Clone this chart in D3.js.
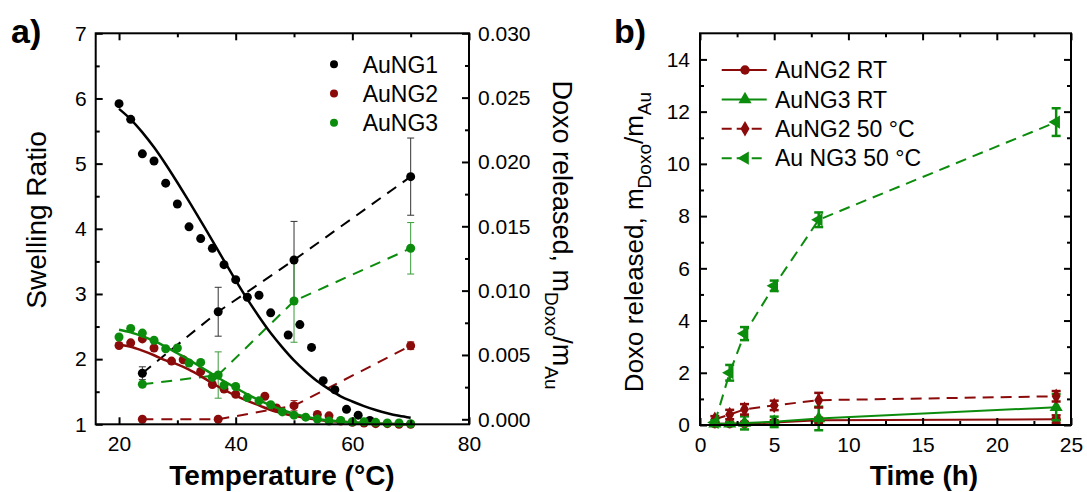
<!DOCTYPE html>
<html><head><meta charset="utf-8">
<script src="https://cdn.jsdelivr.net/npm/d3@7"></script>
<style>body{margin:0;background:#fff} svg{display:block} text{font-family:"Liberation Sans",Arial,sans-serif;fill:#000}</style>
</head><body><svg id="c" width="1087" height="492"></svg>
<script>
// ---------- Panel a data ----------
const swellT1 = [20,22,24,26,28,30,32,34,36,38,40,42,44,46,49,51,53,55,57,59,61,63];
const swell1  = [5.92,5.68,5.15,5.04,4.70,4.38,4.03,3.85,3.70,3.45,3.22,2.95,2.98,2.71,2.37,2.53,2.18,1.67,1.53,1.23,1.14,1.06];
const swellT2 = [20,22,24,26,29,31,34,36,38,40,45,47,54,56,58,60,62,64,66,68,70];
const swell2  = [2.21,2.25,2.31,2.17,1.97,1.99,1.81,1.61,1.54,1.46,1.43,1.25,1.15,1.13,1.05,1.03,1.02,1.01,1.01,1.00,1.00];
const swellT3 = [20,22,24,26,28,30,32,34,36,38,40,42,44,46,48,50,52,54,56,58,60,62,64,66,68,70];
const swell3  = [2.34,2.47,2.40,2.29,2.16,2.17,1.94,1.95,1.72,1.60,1.58,1.41,1.36,1.30,1.19,1.14,1.11,1.08,1.05,1.06,1.04,1.04,1.03,1.02,1.02,1.01];

const fitT = [20,22,24,26,28,30,32,34,36,38,40,42,44,46,48,50,52,54,56,58,60,62,64,66,68,70];
const fit1 = [5.84,5.68,5.48,5.25,4.99,4.71,4.42,4.12,3.82,3.51,3.21,2.92,2.65,2.40,2.18,1.98,1.81,1.66,1.54,1.43,1.35,1.28,1.22,1.17,1.13,1.10];
const fit2 = [2.22,2.19,2.13,2.06,1.98,1.92,1.84,1.74,1.63,1.53,1.44,1.36,1.29,1.22,1.17,1.13,1.10,1.07,1.05,1.04,1.03,1.02,1.01,1.01,1.00,1.00];
const fit3 = [2.45,2.41,2.35,2.28,2.19,2.09,1.99,1.88,1.77,1.66,1.56,1.46,1.37,1.29,1.22,1.16,1.12,1.08,1.06,1.04,1.03,1.02,1.01,1.01,1.00,1.00];

const doxoT   = [24,37,50,70];
const doxo1   = [0.00358,0.00836,0.01238,0.01886];
const doxo1E  = [0.0005,0.0019,0.0030,0.0030];
const doxo2   = [0.0000,0.0000,0.00106,0.00572];
const doxo2E  = [0.0000,0.0000,0.0004,0.0003];
const doxo3   = [0.00272,0.00344,0.00919,0.01329];
const doxo3E  = [0.0000,0.0018,0.0032,0.0020];

const xTicksA = [20,40,60,80], xMinorA = [30,50,70];
const yTicksA = [1,2,3,4,5,6,7], yMinorA = [1.5,2.5,3.5,4.5,5.5,6.5];
const y2TicksA = [0,0.005,0.010,0.015,0.020,0.025,0.030], y2MinorA = [0.0025,0.0075,0.0125,0.0175,0.0225,0.0275];
const legendA = ["AuNG1","AuNG2","AuNG3"];

// ---------- Panel b data ----------
const timeB = [1,2,3,5,8,24];
const ng2RT  = [0.05,0.05,0.05,0.10,0.18,0.22];
const ng2RTE = [0.05,0.05,0.05,0.08,0.10,0.15];
const ng3RT  = [0.05,0.05,0.08,0.12,0.25,0.68];
const ng3RTE = [0.05,0.05,0.25,0.20,0.45,0.50];
const ng250  = [0.22,0.40,0.60,0.75,0.95,1.10];
const ng250E = [0.12,0.18,0.20,0.18,0.28,0.20];
const ng350  = [0.10,2.00,3.50,5.33,7.86,11.60];
const ng350E = [0.08,0.30,0.25,0.20,0.28,0.53];
const xTicksB = [0,5,10,15,20,25], xMinorB = [2.5,7.5,12.5,17.5,22.5];
const yTicksB = [0,2,4,6,8,10,12,14], yMinorB = [1,3,5,7,9,11,13];
const legendB = ["AuNG2 RT","AuNG3 RT","AuNG2 50 °C","Au NG3 50 °C"];

const RED = "#8b0a0a", GREEN = "#0c8c0c", BLACK = "#000";
const svg = d3.select("#c");

function styleAxis(g, fs){
  g.select(".domain").remove();
  g.selectAll(".tick line").attr("stroke","#000").attr("stroke-width",2);
  g.attr("font-family",'"Liberation Sans",Arial,sans-serif').attr("font-size",fs);
  g.selectAll("text").attr("fill","#000");
}
function axes(x, y, opt){
  const [x0,x1] = x.range(), [yb,yt] = y.range();
  svg.append("g").attr("transform",`translate(0,${yb})`)
    .call(d3.axisBottom(x).tickValues(opt.xt).tickSizeInner(-7).tickSizeOuter(0).tickPadding(12).tickFormat(d3.format("d")))
    .call(g=>styleAxis(g,21));
  svg.append("g").attr("transform",`translate(0,${yb})`)
    .call(d3.axisBottom(x).tickValues(opt.xm).tickSizeInner(-4).tickSizeOuter(0).tickFormat(""))
    .call(g=>styleAxis(g,21));
  svg.append("g").attr("transform",`translate(0,${yt})`)
    .call(d3.axisTop(x).tickValues(opt.xt).tickSizeInner(-7).tickSizeOuter(0).tickFormat(""))
    .call(g=>styleAxis(g,21));
  svg.append("g").attr("transform",`translate(0,${yt})`)
    .call(d3.axisTop(x).tickValues(opt.xm).tickSizeInner(-4).tickSizeOuter(0).tickFormat(""))
    .call(g=>styleAxis(g,21));
  svg.append("g").attr("transform",`translate(${x0},0)`)
    .call(d3.axisLeft(y).tickValues(opt.yt).tickSizeInner(-7).tickSizeOuter(0).tickPadding(opt.lpad).tickFormat(d3.format("d")))
    .call(g=>styleAxis(g,21));
  svg.append("g").attr("transform",`translate(${x0},0)`)
    .call(d3.axisLeft(y).tickValues(opt.ym).tickSizeInner(-4).tickSizeOuter(0).tickFormat(""))
    .call(g=>styleAxis(g,21));
  const yr = opt.y2 || y;
  svg.append("g").attr("transform",`translate(${x1},0)`)
    .call(d3.axisRight(yr).tickValues(opt.y2t || opt.yt).tickSizeInner(-7).tickSizeOuter(0).tickPadding(9)
      .tickFormat(opt.y2 ? d3.format(".3f") : ""))
    .call(g=>styleAxis(g,21));
  svg.append("g").attr("transform",`translate(${x1},0)`)
    .call(d3.axisRight(yr).tickValues(opt.y2m || opt.ym).tickSizeInner(-4).tickSizeOuter(0).tickFormat(""))
    .call(g=>styleAxis(g,21));
  svg.append("rect").attr("x",x0).attr("y",yt).attr("width",x1-x0).attr("height",yb-yt)
    .attr("fill","none").attr("stroke","#000").attr("stroke-width",2);
}

// ================= Panel a =================
const xA = d3.scaleLinear([16,80],[95.7,469]);
const yA = d3.scaleLinear([1,7],[424.3,33.3]);
const yA2 = d3.scaleLinear([-0.000389,0.030],[424.3,33.3]);

const gA = svg.append("g");
function dots(g, xs, ys, xsc, ysc, col, r){
  g.selectAll(null).data(xs).join("circle")
    .attr("cx",(d)=>xsc(d)).attr("cy",(d,i)=>ysc(ys[i])).attr("r",r).attr("fill",col);
}
function line(g, xs, ys, xsc, ysc, col, w, dash, curve){
  const l = d3.line().x(d=>xsc(d[0])).y(d=>ysc(d[1])).curve(curve||d3.curveLinear);
  g.append("path").attr("d",l(xs.map((d,i)=>[d,ys[i]]))).attr("fill","none")
    .attr("stroke",col).attr("stroke-width",w).attr("stroke-dasharray",dash||null);
}
function errbars(g, xs, ys, es, xsc, ysc, col, w, cap){
  xs.forEach((d,i)=>{
    if(!es[i]) return;
    const x = xsc(d), y1 = ysc(ys[i]-es[i]), y2 = ysc(ys[i]+es[i]);
    g.append("line").attr("x1",x).attr("x2",x).attr("y1",y1).attr("y2",y2).attr("stroke",col).attr("stroke-width",w);
    [y1,y2].forEach(yy=>g.append("line").attr("x1",x-cap).attr("x2",x+cap).attr("y1",yy).attr("y2",yy).attr("stroke",col).attr("stroke-width",w));
  });
}

line(gA, doxoT, doxo1, xA, yA2, BLACK, 2, "11,8");
line(gA, doxoT, doxo3, xA, yA2, GREEN, 2, "11,8");
line(gA, doxoT, doxo2, xA, yA2, RED, 2, "11,8");
errbars(gA, doxoT, doxo1, doxo1E, xA, yA2, "#333", 1, 3.5);
errbars(gA, doxoT, doxo3, doxo3E, xA, yA2, "#3a9a3a", 1, 3.5);
errbars(gA, doxoT, doxo2, doxo2E, xA, yA2, "#a03030", 1, 3.5);
dots(gA, doxoT, doxo1, xA, yA2, BLACK, 4.5);
dots(gA, doxoT, doxo2, xA, yA2, RED, 4.5);
dots(gA, doxoT, doxo3, xA, yA2, GREEN, 4.5);

dots(gA, swellT1, swell1, xA, yA, BLACK, 4.5);
line(gA, fitT, fit1, xA, yA, BLACK, 2.5, null, d3.curveMonotoneX);
dots(gA, swellT2, swell2, xA, yA, RED, 4.5);
line(gA, fitT, fit2, xA, yA, RED, 2.5, null, d3.curveMonotoneX);
dots(gA, swellT3, swell3, xA, yA, GREEN, 4.5);
line(gA, fitT, fit3, xA, yA, GREEN, 2.5, null, d3.curveMonotoneX);

axes(xA, yA, {xt:xTicksA, xm:xMinorA, yt:yTicksA, ym:yMinorA, lpad:9, y2:yA2, y2t:y2TicksA, y2m:y2MinorA});

const legColA = [BLACK, RED, GREEN];
legendA.forEach((s,i)=>{
  const yy = 64.3 + i*29.2;
  svg.append("circle").attr("cx",334).attr("cy",yy).attr("r",4).attr("fill",legColA[i]);
  svg.append("text").attr("x",362.7).attr("y",yy).attr("dy","0.36em").attr("font-size",23).text(s);
});

svg.append("text").attr("x",11).attr("y",43).attr("font-size",34).attr("font-weight","bold").text("a)");
svg.append("text").attr("text-anchor","middle").attr("transform","translate(46,220) rotate(-90)")
  .attr("font-size",28).text("Swelling Ratio");
svg.append("text").attr("text-anchor","middle").attr("x",282).attr("y",485)
  .attr("font-size",28).attr("font-weight","bold").text("Temperature (°C)");
function doxoTitle(tr, fs){
  const t = svg.append("text").attr("text-anchor","middle").attr("transform",tr).attr("font-size",fs);
  t.append("tspan").text("Doxo released, m");
  t.append("tspan").attr("font-size",19).attr("dy",8).text("Doxo");
  t.append("tspan").attr("dy",-8).text("/m");
  t.append("tspan").attr("font-size",19).attr("dy",8).text("Au");
}
doxoTitle("translate(553,235) rotate(90)", 27);

// ================= Panel b =================
const xB = d3.scaleLinear([0,25],[700,1071]);
const yB = d3.scaleLinear([0,15],[425,33.3]);
const gB = svg.append("g");

const sym = {
  circle: d3.symbol(d3.symbolCircle, 70),
  tri: d3.symbol(d3.symbolTriangle, 75),
  diamond: d3.symbol(d3.symbolDiamond, 70),
};
function markers(g, xs, ys, xsc, ysc, col, type, rot){
  g.selectAll(null).data(xs).join("path").attr("d",sym[type]())
    .attr("transform",(d,i)=>`translate(${xsc(d)},${ysc(ys[i])}) rotate(${rot||0})`).attr("fill",col);
}
const seriesB = [
  {y:ng2RT, e:ng2RTE, col:RED, dash:null, type:"circle", rot:0},
  {y:ng3RT, e:ng3RTE, col:GREEN, dash:null, type:"tri", rot:0},
  {y:ng250, e:ng250E, col:RED, dash:"11,7", type:"diamond", rot:0},
  {y:ng350, e:ng350E, col:GREEN, dash:"11,7", type:"tri", rot:-90},
];
seriesB.forEach(s=>{
  line(gB, timeB, s.y, xB, yB, s.col, 2, s.dash);
  errbars(gB, timeB, s.y, s.e, xB, yB, s.col, 2.5, 4.5);
  markers(gB, timeB, s.y, xB, yB, s.col, s.type, s.rot);
});

axes(xB, yB, {xt:xTicksB, xm:xMinorB, yt:yTicksB, ym:yMinorB, lpad:10});

seriesB.forEach((s,i)=>{
  const yy = 70 + i*29.4;
  svg.append("line").attr("x1",721.7).attr("x2",766.7).attr("y1",yy).attr("y2",yy)
    .attr("stroke",s.col).attr("stroke-width",2).attr("stroke-dasharray",s.dash ? "10,5" : null);
  svg.append("path").attr("d",sym[s.type]()).attr("transform",`translate(745,${yy}) rotate(${s.rot})`).attr("fill",s.col);
  svg.append("text").attr("x",775).attr("y",yy).attr("dy","0.36em").attr("font-size",23).text(legendB[i]);
});

svg.append("text").attr("x",614).attr("y",43).attr("font-size",34).attr("font-weight","bold").text("b)");
svg.append("text").attr("text-anchor","middle").attr("x",924).attr("y",485)
  .attr("font-size",28).attr("font-weight","bold").text("Time (h)");
doxoTitle("translate(643,242) rotate(-90)", 26);
</script></body></html>
